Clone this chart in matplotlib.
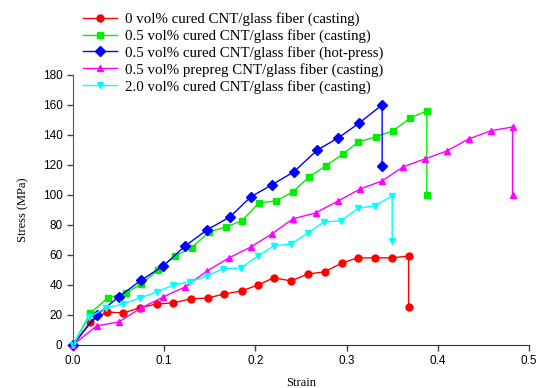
import matplotlib
matplotlib.use("Agg")
from matplotlib import pyplot as plt

# strain / stress
red_x = [0, 0.019, 0.037, 0.055, 0.073, 0.092, 0.110, 0.129, 0.148, 0.166, 0.185,
         0.203, 0.220, 0.239, 0.258, 0.276, 0.295, 0.312, 0.331, 0.350, 0.368, 0.368]
red_y = [0, 15.3, 22, 21.3, 24.7, 27.3, 28, 30.7, 31.3, 34, 36,
         40, 44.7, 42.7, 47.3, 48.7, 54.7, 58, 58, 58, 59.3, 25.3]

green_x = [0, 0.019, 0.038, 0.058, 0.075, 0.093, 0.112, 0.130, 0.149, 0.168, 0.185,
           0.204, 0.223, 0.241, 0.259, 0.277, 0.296, 0.313, 0.332, 0.351, 0.370, 0.388, 0.388]
green_y = [0, 21.3, 31.3, 34.7, 40.7, 50, 59.3, 64.7, 75.3, 78.7, 82.7,
           94.7, 96, 102, 112, 119.3, 127.3, 135.3, 138.7, 142.7, 151.3, 156, 100]

blue_x = [0, 0.026, 0.050, 0.075, 0.099, 0.123, 0.147, 0.172, 0.195, 0.218, 0.242,
          0.268, 0.291, 0.314, 0.339, 0.339]
blue_y = [0, 20, 32, 43.3, 52.7, 66, 76.7, 85.3, 98.7, 106.7, 115.3,
          130, 138, 148, 160, 119.3]

mag_x = [0, 0.026, 0.050, 0.075, 0.099, 0.123, 0.147, 0.171, 0.195, 0.218, 0.241,
         0.266, 0.291, 0.315, 0.339, 0.362, 0.386, 0.410, 0.434, 0.458, 0.482, 0.482]
mag_y = [0, 12.7, 15.3, 24.7, 32, 38.7, 49.3, 58, 65.3, 74, 84,
         88, 96, 104, 109.3, 118.7, 124, 129.3, 137.3, 142.7, 145.3, 100]

cyan_x = [0, 0.018, 0.036, 0.055, 0.073, 0.092, 0.110, 0.128, 0.147, 0.164, 0.184,
          0.203, 0.220, 0.239, 0.258, 0.275, 0.294, 0.313, 0.331, 0.350, 0.350]
cyan_y = [0, 18.7, 24.7, 27.3, 31.3, 35.3, 40, 42, 46, 50.7, 51.3,
          59.3, 66, 67.3, 74.7, 82, 82.7, 91.3, 92.7, 99.3, 69.3]

labels = ['0 vol% cured CNT/glass fiber (casting)',
          '0.5 vol% cured CNT/glass fiber (casting)',
          '0.5 vol% cured CNT/glass fiber (hot-press)',
          '0.5 vol% prepreg CNT/glass fiber (casting)',
          '2.0 vol% cured CNT/glass fiber (casting)']

series = [(red_x, red_y, '#ff0000', 'o'),
          (green_x, green_y, '#00ee00', 's'),
          (blue_x, blue_y, '#0000ff', 'D'),
          (mag_x, mag_y, '#ff00ff', '^'),
          (cyan_x, cyan_y, '#00ffff', 'v')]

fig = plt.figure(figsize=(5.37, 3.88), dpi=100)
ax = fig.add_axes([0.136, 0.111, 0.849, 0.696])

for (x, y, c, m), lab in zip(series, labels):
    ax.plot(x, y, color=c, marker=m, markersize=5, linewidth=1, label=lab, clip_on=False)

ax.set_xlim(0, 0.5)
ax.set_ylim(0, 180)
ax.set_xticks([0, 0.1, 0.2, 0.3, 0.4, 0.5])
ax.set_xticklabels(['0.0', '0.1', '0.2', '0.3', '0.4', '0.5'])
ax.set_yticks(range(0, 181, 20))
for lbl in ax.get_xticklabels() + ax.get_yticklabels():
    lbl.set_family('Liberation Sans')
    lbl.set_fontsize(8.5)
ax.tick_params(direction='out', length=4, width=1, color='#444444')
ax.spines['top'].set_visible(False)
ax.spines['right'].set_visible(False)
ax.spines['left'].set_color('#555555')
ax.spines['bottom'].set_color('#333333')

ax.set_xlabel('Strain', family='Liberation Serif', fontsize=9, labelpad=7)
ax.set_ylabel('Stress (MPa)', family='Liberation Serif', fontsize=9, labelpad=10)

fig.legend(loc='upper left', bbox_to_anchor=(83 / 537, 1 - 12 / 388), frameon=False,
           prop={'family': 'Liberation Serif', 'size': 10.7}, handlelength=2.3,
           handletextpad=0.55, labelspacing=0.2, borderpad=0, borderaxespad=0)

plt.savefig('out.png', dpi=100)
